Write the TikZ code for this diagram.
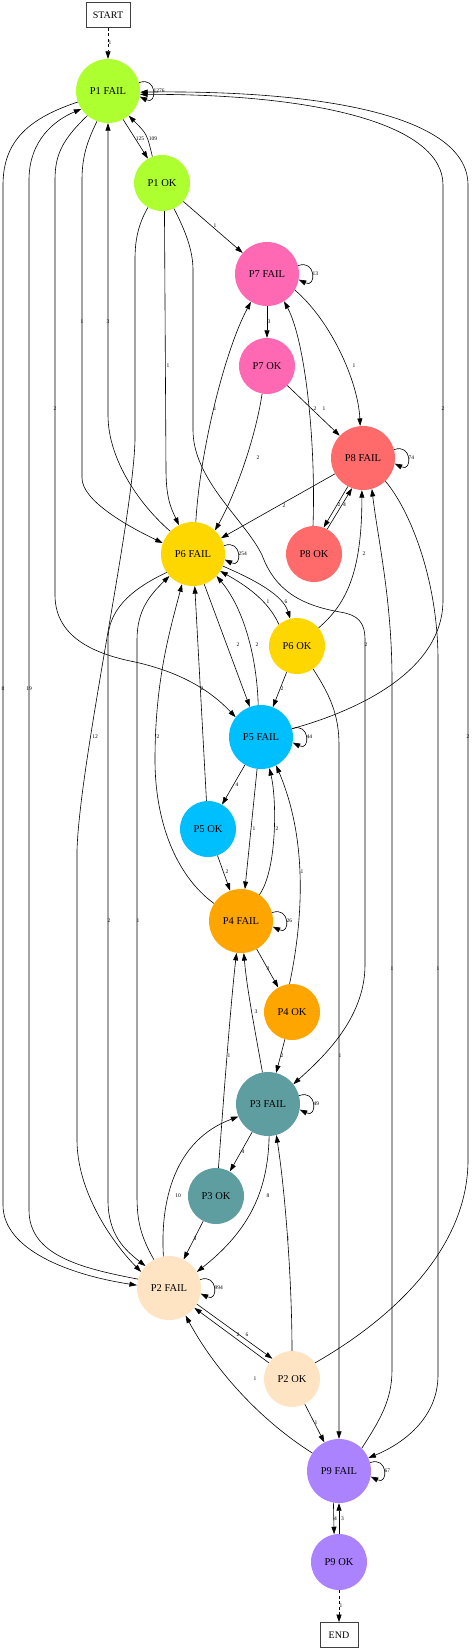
\documentclass[tikz,border=0pt]{standalone}
\usepackage{fontspec}
\setmainfont{Liberation Serif}
\usetikzlibrary{arrows.meta}
\definecolor{cP1}{HTML}{ADFF2F}
\definecolor{cP2}{HTML}{FFE4C4}
\definecolor{cP3}{HTML}{5F9EA0}
\definecolor{cP4}{HTML}{FFA500}
\definecolor{cP5}{HTML}{00BFFF}
\definecolor{cP6}{HTML}{FFD700}
\definecolor{cP7}{HTML}{FF69B4}
\definecolor{cP8}{HTML}{FF6A6A}
\definecolor{cP9}{HTML}{AB82FF}
\tikzset{
  st/.style={circle, draw=none, fill=#1, minimum size=64pt, inner sep=0pt, font=\fontsize{10.5}{12}\selectfont},
  ok/.style={circle, draw=none, fill=#1, minimum size=56pt, inner sep=0pt, font=\fontsize{10.5}{12}\selectfont},
  term/.style={draw=black!75, line width=0.7pt, rectangle, minimum height=25pt, inner sep=0pt, font=\fontsize{10}{12}\selectfont},
  e/.style={-{Triangle[length=7.5pt,width=5pt]}, line width=0.6pt},
  dsh/.style={dash pattern=on 3pt off 2.5pt},
  lbl/.style={font=\fontsize{5.5}{6}\selectfont, inner sep=0pt}
}
\newcommand{\sloop}[2]{\draw[e] (#1.15) .. controls +(18,-7) and +(18,9) .. (#1.-10) node[lbl, right, pos=0.5, xshift=0.5pt] {#2};}
\begin{document}
\begin{tikzpicture}[x=1pt,y=-1pt]
\useasboundingbox (0,0) rectangle (475,1650);
\node[term, minimum width=44pt] (START) at (108,15) {START};
\node[st=cP1] (P1F) at (108,91) {P1 FAIL};
\node[ok=cP1] (P1O) at (162,183) {P1 OK};
\node[st=cP7] (P7F) at (267,274) {P7 FAIL};
\node[ok=cP7] (P7O) at (267,366) {P7 OK};
\node[st=cP8] (P8F) at (363,458) {P8 FAIL};
\node[st=cP6] (P6F) at (193,554) {P6 FAIL};
\node[ok=cP8] (P8O) at (314,554) {P8 OK};
\node[ok=cP6] (P6O) at (297,646) {P6 OK};
\node[st=cP5] (P5F) at (261,737) {P5 FAIL};
\node[ok=cP5] (P5O) at (208,829) {P5 OK};
\node[st=cP4] (P4F) at (241,921) {P4 FAIL};
\node[ok=cP4] (P4O) at (292,1012) {P4 OK};
\node[st=cP3] (P3F) at (268,1104) {P3 FAIL};
\node[ok=cP3] (P3O) at (216,1196) {P3 OK};
\node[st=cP2] (P2F) at (169,1288) {P2 FAIL};
\node[ok=cP2] (P2O) at (292,1379) {P2 OK};
\node[st=cP9] (P9F) at (339,1471) {P9 FAIL};
\node[ok=cP9] (P9O) at (339,1562) {P9 OK};
\node[term, minimum width=38pt] (END) at (339,1635) {END};

\draw[e,dsh] (START) -- (P1F) node[lbl] at (110,43) {1};
\sloop{P1F}{1276}
\draw[e] (P1F.-62) -- (P1O.120) node[lbl] at (140,139) {125};
\draw[e] (P1O.110) .. controls (147,134) .. (P1F.-50) node[lbl] at (153,139) {109};
\draw[e] (P1O) -- (P7F) node[lbl] at (215,226) {1};
\sloop{P7F}{13}
\draw[e] (P7F) -- (P7O) node[lbl] at (269,322) {3};
\draw[e] (P7F.-30) .. controls (330,320) and (358,380) .. (P8F.95) node[lbl] at (354,366) {1};
\draw[e] (P7O) -- (P8F) node[lbl] at (324,409) {1};
\draw[e] (P7O.-100) .. controls (255,440) and (235,495) .. (P6F.47) node[lbl] at (258,458) {2};
\draw[e] (P8O.92) .. controls (316,440) and (305,340) .. (P7F.-58) node[lbl] at (315,409) {2};
\draw[e] (P6F.85) .. controls (200,450) and (225,350) .. (P7F.-120) node[lbl] at (215,409) {1};
\sloop{P8F}{74}
\draw[e] (P8F) -- (P6F) node[lbl] at (284,506) {2};
\draw[e] (P8F.-118) -- (P8O.70) node[lbl] at (339,505) {2};
\draw[e] (P8O.62) -- (P8F.-110) node[lbl] at (344.5,505) {4};

\draw[e] (P1F.-110) .. controls (88,140) and (82,155) .. (82,180) -- (82,478) .. controls (82,500) and (125,525) .. (P6F.160) node[lbl] at (82,322) {1};
\draw[e] (P6F.135) .. controls (140,505) and (108,460) .. (108,415) -- (P1F) node[lbl] at (108,322) {3};
\draw[e] (P1O.-85) -- (166,470) .. controls (166,500) and (172,510) .. (P6F.116) node[lbl] at (168,366) {1};
\draw[e] (P1F.-130) .. controls (62,140) and (55,155) .. (55,180) -- (55,595) .. controls (55,640) and (100,655) .. (135,662) .. controls (180,672) and (210,690) .. (P5F.142) node[lbl] at (55,409) {2};
\draw[e] (P1F.-160) .. controls (30,118) and (3,140) .. (3,185) -- (3,1205) .. controls (3,1250) and (70,1275) .. (P2F.175) node[lbl] at (3,689) {8};
\draw[e] (P2F.164) .. controls (80,1268) and (29,1255) .. (29,1210) -- (29,180) .. controls (29,140) and (55,120) .. (P1F.-146) node[lbl] at (29,689) {19};
\draw[e] (P1O.-120) .. controls (138,225) and (135,240) .. (135,260) -- (135,440) .. controls (133,520) and (80,760) .. (77,850) -- (77,1140) .. controls (77,1190) and (110,1240) .. (P2F.150) node[lbl] at (95,737) {12};
\draw[e] (P1O.-65) .. controls (185,230) and (193,250) .. (193,270) -- (193,430) .. controls (193,480) and (245,520) .. (262,555) .. controls (275,590) and (300,605) .. (340,612) .. controls (358,615) and (365,622) .. (365,640) -- (365,965) .. controls (365,1020) and (320,1060) .. (P3F.38) node[lbl] at (366,645) {2};
\draw[e] (P5F.15) .. controls (360,710) and (443,670) .. (443,600) -- (443,185) .. controls (443,125) and (320,94) .. (P1F.-6) node[lbl] at (443,409) {2};
\draw[e] (P2O.35) .. controls (390,1320) and (468,1250) .. (468,1160) -- (468,185) .. controls (468,115) and (320,90) .. (P1F.-2) node[lbl] at (468,737) {2};

\sloop{P6F}{254}
\draw[e] (P6F.-145) .. controls (140,585) and (108,605) .. (108,640) -- (108,1200) .. controls (108,1235) and (125,1250) .. (P2F.137) node[lbl] at (109,921) {2};
\draw[e] (P2F.118) .. controls (140,1235) and (137,1220) .. (137,1195) -- (137,640) .. controls (137,610) and (150,595) .. (P6F.-137) node[lbl] at (138,921) {1};
\draw[e] (P4F.147) .. controls (175,875) and (155,820) .. (155,760) .. controls (155,680) and (170,630) .. (P6F.-110) node[lbl] at (158,737) {2};
\draw[e] (P5O) -- (P6F) node[lbl] at (202,689) {2};
\draw[e] (P6F) -- (P5F) node[lbl] at (238,645) {2};
\draw[e] (P5F.95) .. controls (257,660) and (245,610) .. (P6F.-43) node[lbl] at (257,645) {2};
\draw[e] (P6F.-22) .. controls (255,580) and (283,595) .. (P6O.104) node[lbl] at (286,602) {6};
\draw[e] (P6O.130) .. controls (268,600) and (245,585) .. (P6F.-32) node[lbl] at (268,602) {1};
\draw[e] (P6O) -- (P5F) node[lbl] at (282,689) {2};
\draw[e] (P6O.40) .. controls (345,605) and (362,575) .. (P8F.-92) node[lbl] at (364,554) {2};
\draw[e] (P6O.-55) .. controls (330,695) and (339,715) .. (339,745) -- (P9F) node[lbl] at (340,1056) {1};
\draw[e] (P9F.45) .. controls (380,1420) and (392,1400) .. (392,1370) -- (392,680) .. controls (392,600) and (378,540) .. (P8F.-74) node[lbl] at (392,969) {1};
\draw[e] (P8F.-46) .. controls (410,510) and (438,580) .. (438,660) -- (438,1375) .. controls (438,1420) and (400,1445) .. (P9F.24) node[lbl] at (438,969) {1};

\sloop{P5F}{44}
\draw[e] (P5F) -- (P5O) node[lbl] at (237,785) {4};
\draw[e] (P5F.-97) -- (P4F.83) node[lbl] at (254,829) {1};
\draw[e] (P4F.55) .. controls (277,870) and (277,800) .. (P5F.-75) node[lbl] at (277,829) {2};
\draw[e] (P4O.95) .. controls (303,920) and (308,840) .. (P5F.-62) node[lbl] at (302,872) {1};
\draw[e] (P5O) -- (P4F) node[lbl] at (227,872) {2};
\sloop{P4F}{26}
\draw[e] (P4F) -- (P4O) node[lbl] at (268,969) {3};
\draw[e] (P4O) -- (P3F) node[lbl] at (282,1056) {2};
\draw[e] (P3F.100) .. controls (255,1030) and (247,990) .. (P4F.-85) node[lbl] at (256,1012) {3};
\draw[e] (P3O.85) .. controls (222,1120) and (230,1010) .. (P4F.-98) node[lbl] at (229,1056) {1};
\sloop{P3F}{49}
\draw[e] (P3F) -- (P3O) node[lbl] at (243,1152) {4};
\draw[e] (P3F.-88) .. controls (268,1190) and (250,1230) .. (P2F.30) node[lbl] at (268,1196) {8};
\draw[e] (P2F.100) .. controls (160,1200) and (175,1140) .. (P3F.-157) node[lbl] at (178,1196) {10};
\draw[e] (P3O) -- (P2F) node[lbl] at (195,1239) {3};
\sloop{P2F}{994}
\draw[e] (P2F.-30) -- (P2O.134) node[lbl] at (247,1335) {6};
\draw[e] (P2O.145) -- (P2F.-38) node[lbl] at (238,1335) {2};
\draw[e] (P2O.90) .. controls (292,1280) and (285,1190) .. (P3F.-75) node[lbl] at (288,1239) {1};
\draw[e] (P9F.146) .. controls (260,1420) and (215,1370) .. (P2F.-59) node[lbl] at (255,1379) {1};
\draw[e] (P2O) -- (P9F) node[lbl] at (316,1423) {1};
\sloop{P9F}{67}
\draw[e] (P9F.-100) -- (P9O.100) node[lbl] at (335.5,1519) {4};
\draw[e] (P9O.90) -- (P9F.-90) node[lbl] at (342.5,1519) {3};
\draw[e,dsh] (P9O) -- (END) node[lbl] at (341,1606) {1};
\end{tikzpicture}
\end{document}
